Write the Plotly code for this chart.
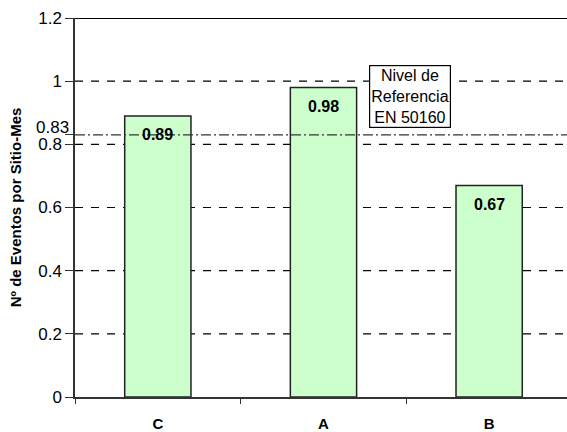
import plotly.graph_objects as go

# Events per site-month for each measurement site
sites = ["C", "A", "B"]
events = [0.89, 0.98, 0.67]

# Reference level (EN 50160) and gridline values
ref_level = 0.83
grid_values = [0.2, 0.4, 0.6, 0.8, 1.0]
top_value = 1.2
tick_vals = [0, 0.2, 0.4, 0.6, 0.8, 0.83, 1.0, 1.2]
tick_text = ["0", "0.2", "0.4", "0.6", "0.8", "", "1", "1.2"]

FONT = "Liberation Sans, Arial, sans-serif"

fig = go.Figure()
fig.add_trace(go.Bar(
    x=sites,
    y=events,
    width=0.4,
    marker=dict(color="#CCFFCC", line=dict(color="#222222", width=1.5)),
    hoverinfo="skip",
))

# Value labels just below each bar top
for s, v in zip(sites, events):
    fig.add_annotation(
        x=s, y=v, xref="x", yref="y", yshift=-19,
        text=f"{v:.2f}", showarrow=False,
        font=dict(family=FONT, size=16, color="black", weight="bold"),
    )

shapes = []
for g in grid_values:
    shapes.append(dict(type="line", xref="paper", yref="y", x0=0, x1=1, y0=g, y1=g,
                       line=dict(color="black", width=1.2, dash="8px,8px"), layer="below"))
shapes.append(dict(type="line", xref="paper", yref="y", x0=0, x1=1, y0=ref_level, y1=ref_level,
                   line=dict(color="#333333", width=1.2, dash="10px,3px,2px,3px"), layer="above"))
shapes.append(dict(type="line", xref="paper", yref="y", x0=0, x1=1, y0=top_value, y1=top_value,
                   line=dict(color="black", width=2), layer="above"))
fig.update_layout(shapes=shapes)

# Label for the reference level on the axis, lifted slightly off the 0.8 label
fig.add_annotation(
    x=0, y=ref_level, xref="paper", yref="y", xanchor="right", xshift=-4, yshift=7,
    text=f"{ref_level:.2f}", showarrow=False,
    font=dict(family=FONT, size=17, color="black"),
)

fig.add_annotation(
    x=1.52, y=0.95, xref="x", yref="y",
    text="Nivel de<br>Referencia<br>EN 50160",
    showarrow=False,
    font=dict(family=FONT, size=16, color="black"),
    bgcolor="white", bordercolor="black", borderwidth=1.2, borderpad=1,
)

fig.update_layout(
    width=567, height=432,
    margin=dict(l=75, r=0, t=18, b=35),
    paper_bgcolor="white",
    plot_bgcolor="white",
    showlegend=False,
    font=dict(family=FONT, color="black"),
    xaxis=dict(
        range=[-0.5, 2.47],
        showline=True, linecolor="#333333", linewidth=1.5,
        ticks="outside", tickson="boundaries", ticklen=5, tickcolor="#333333",
        tickfont=dict(family=FONT, size=15, color="black", weight="bold"),
        ticklabelstandoff=12,
        showgrid=False, zeroline=False, fixedrange=True,
    ),
    yaxis=dict(
        range=[0, 1.2],
        tickvals=tick_vals, ticktext=tick_text,
        showline=True, linecolor="#333333", linewidth=1.5,
        ticks="outside", ticklen=8, tickcolor="#333333",
        tickfont=dict(family=FONT, size=17, color="black"),
        showgrid=False, zeroline=False,
        title=dict(text="Nº de Eventos por Sitio-Mes",
                   font=dict(family=FONT, size=15, color="black", weight="bold"),
                   standoff=13),
    ),
)

fig.write_html("out.html")
